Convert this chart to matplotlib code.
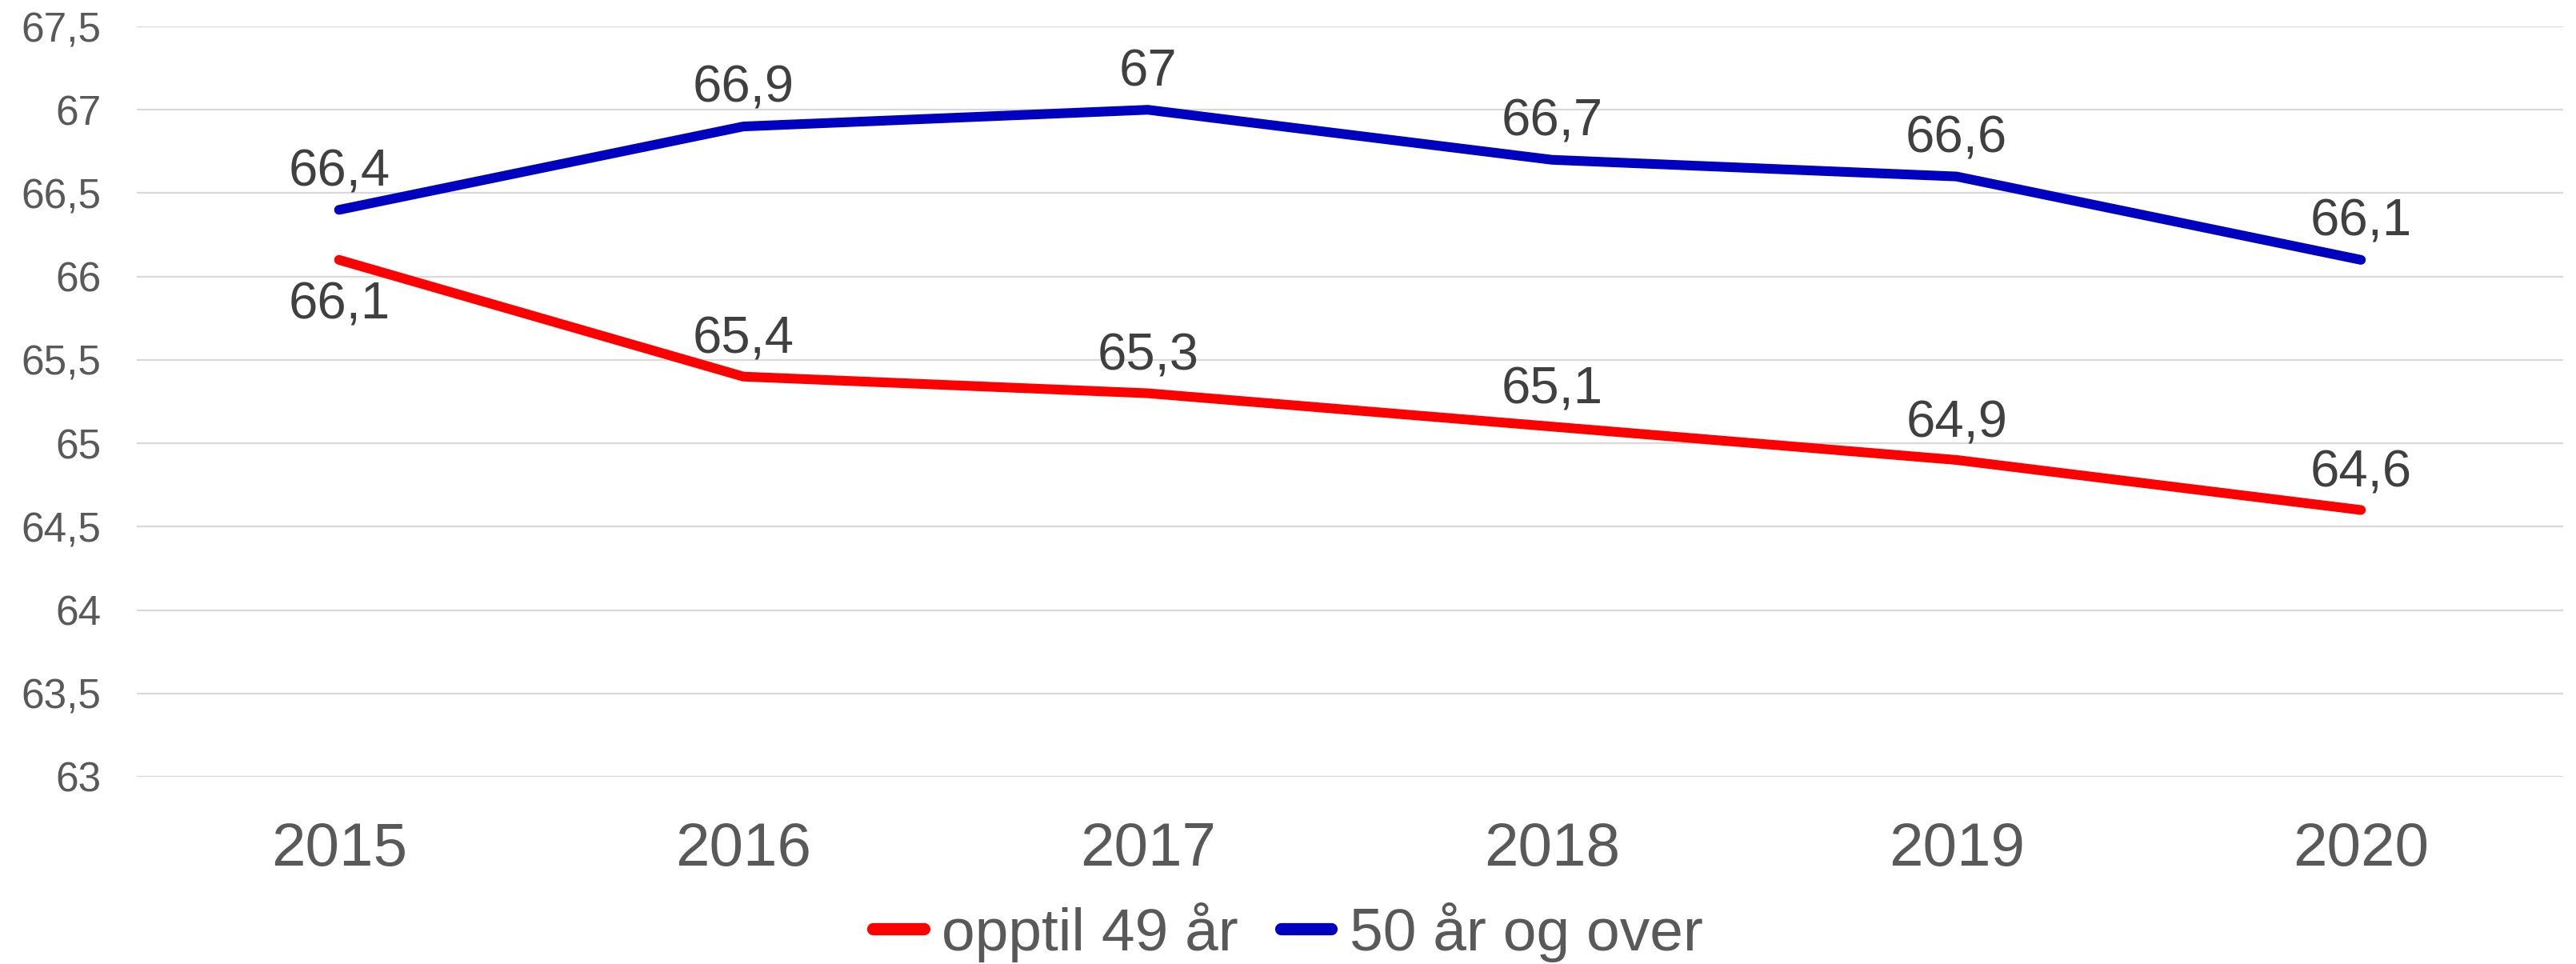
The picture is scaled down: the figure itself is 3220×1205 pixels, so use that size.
import matplotlib
matplotlib.use("Agg")
import matplotlib.pyplot as plt
from matplotlib.ticker import FuncFormatter, MultipleLocator

plt.rcParams["font.family"] = ["Liberation Sans", "DejaVu Sans"]

years = ["2015", "2016", "2017", "2018", "2019", "2020"]
under_49 = [66.1, 65.4, 65.3, 65.1, 64.9, 64.6]
over_50 = [66.4, 66.9, 67.0, 66.7, 66.6, 66.1]
series_names = ["opptil 49 år", "50 år og over"]

RED = "#ff0000"
BLUE = "#0000c0"


def fmt_num(v):
    s = f"{v:.1f}".rstrip("0").rstrip(".")
    return s.replace(".", ",")


fig = plt.figure(figsize=(32.2, 12.05), dpi=100)
ax = fig.add_axes([0.0531, 0.1942, 0.9419, 0.7784])

x = list(range(len(years)))
ax.plot(x, under_49, color=RED, lw=8.7, solid_capstyle="round",
        label=series_names[0], zorder=3)
ax.plot(x, over_50, color=BLUE, lw=8.7, solid_capstyle="round",
        label=series_names[1], zorder=3)

# data labels: blue above, red above except the first one (below)
for i, v in enumerate(over_50):
    ax.annotate(fmt_num(v), (i, v), xytext=(0, 34), textcoords="offset points",
                ha="center", va="center", fontsize=47, color="#404040")
for i, v in enumerate(under_49):
    dy = -41 if i == 0 else 33
    ax.annotate(fmt_num(v), (i, v), xytext=(0, dy), textcoords="offset points",
                ha="center", va="center", fontsize=47, color="#404040")

ax.set_xlim(-0.5, len(years) - 0.5)
ax.set_ylim(63, 67.5)
ax.yaxis.set_major_locator(MultipleLocator(0.5))
ax.yaxis.set_major_formatter(FuncFormatter(lambda v, _: fmt_num(v)))
ax.set_xticks(x)
ax.set_xticklabels(years)
ax.tick_params(axis="y", length=0, labelsize=37, labelcolor="#595959", pad=32)
ax.tick_params(axis="x", length=0, labelsize=55, labelcolor="#595959", pad=40)
ax.grid(axis="y", color="#d9d9d9", lw=1.6)
ax.set_axisbelow(True)
for sp in ax.spines.values():
    sp.set_visible(False)

leg = fig.legend(loc="center", bbox_to_anchor=(0.5, 0.033), ncol=2, frameon=False,
                 fontsize=54, labelcolor="#595959", handlelength=0.85,
                 handletextpad=0.3, columnspacing=0.7)
for line in leg.get_lines():
    line.set_linewidth(11)
    line.set_solid_capstyle("round")

fig.savefig("out.png", dpi=100, facecolor="white")
